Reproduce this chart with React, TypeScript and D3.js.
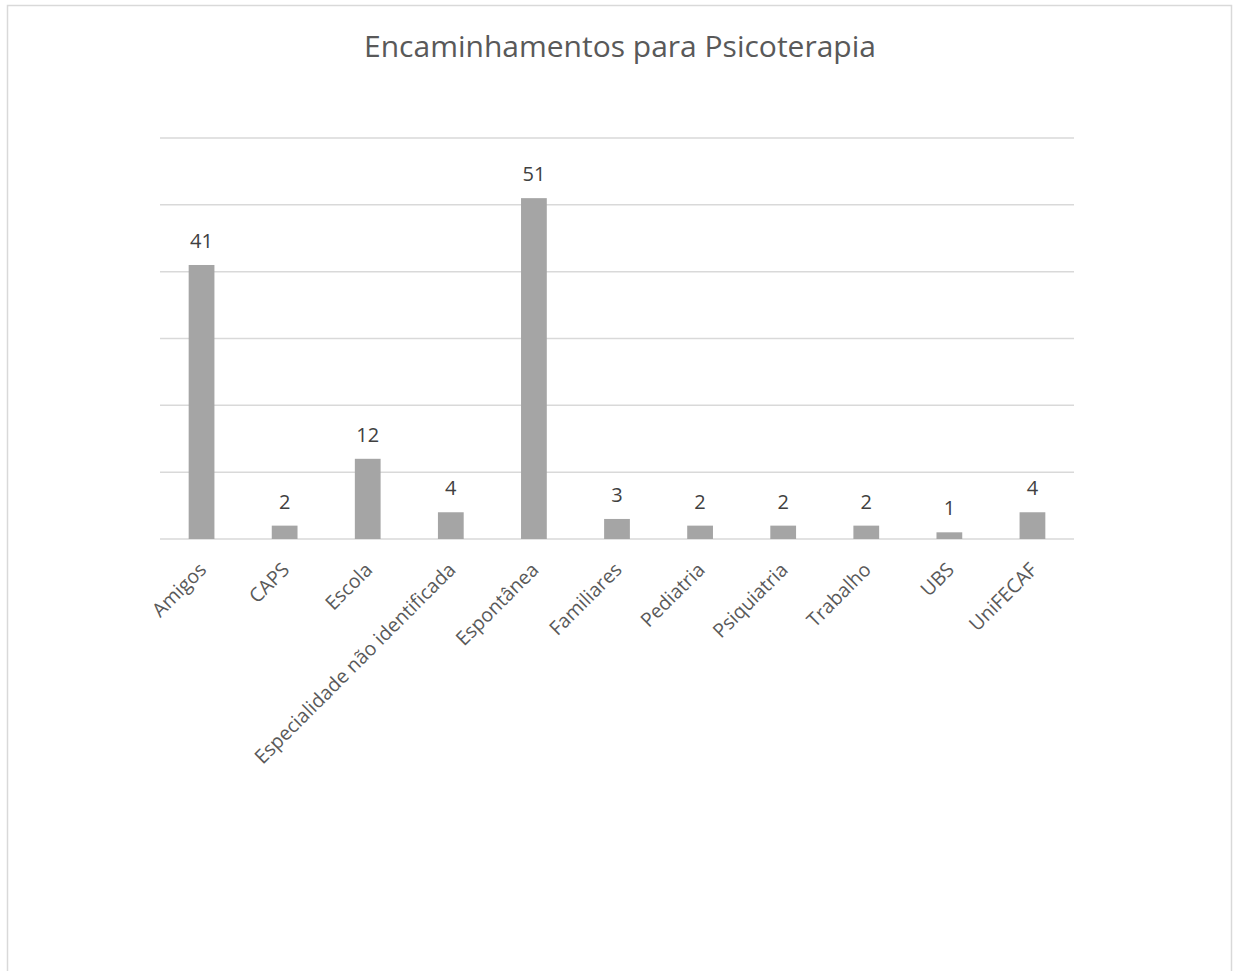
import React from "react";
import * as d3 from "d3";

const categories = [
  "Amigos",
  "CAPS",
  "Escola",
  "Especialidade não identificada",
  "Espontânea",
  "Familiares",
  "Pediatria",
  "Psiquiatria",
  "Trabalho",
  "UBS",
  "UniFECAF",
];
const values = [41, 2, 12, 4, 51, 3, 2, 2, 2, 1, 4];
const gridTicks = [0, 10, 20, 30, 40, 50, 60];
const title = "Encaminhamentos para Psicoterapia";

const W = 1233;
const H = 971;
const left = 160;
const right = 1074;
const top = 138;
const bottom = 539;
const font = "'Open Sans', 'Noto Sans', sans-serif";

export default function App() {
  const x = d3.scaleBand<string>().domain(categories).range([left, right]).paddingInner(0.69).paddingOuter(0.345);
  const y = d3.scaleLinear().domain([0, 60]).range([bottom, top]);
  return (
    <svg width={W} height={H} style={{ position: "absolute", left: 0, top: 0 }}>
      <rect x={0} y={0} width={W} height={H} fill="#ffffff" />
      <rect x={7.5} y={5.5} width={1224} height={980} fill="#ffffff" stroke="#d9d9d9" strokeWidth={1.5} />
      <text x={620} y={57} textAnchor="middle" fontFamily={font} fontSize={30} fill="#595959">
        {title}
      </text>
      {gridTicks.map((t) => (
        <line key={t} x1={left} x2={right} y1={y(t)} y2={y(t)} stroke="#d9d9d9" strokeWidth={1.5} />
      ))}
      {categories.map((c, i) => {
        const bx = x(c)!;
        const bw = x.bandwidth();
        const cx = bx + bw / 2;
        return (
          <g key={c}>
            <rect x={bx} y={y(values[i])} width={bw} height={bottom - y(values[i])} fill="#a5a5a5" />
            <text x={cx} y={y(values[i]) - 17} textAnchor="middle" fontFamily={font} fontSize={20} fill="#404040">
              {values[i]}
            </text>
            <text
              transform={`translate(${cx + 6},${bottom + 32}) rotate(-45)`}
              textAnchor="end"
              fontFamily={font}
              fontSize={19.5}
              fill="#595959"
            >
              {c}
            </text>
          </g>
        );
      })}
    </svg>
  );
}
